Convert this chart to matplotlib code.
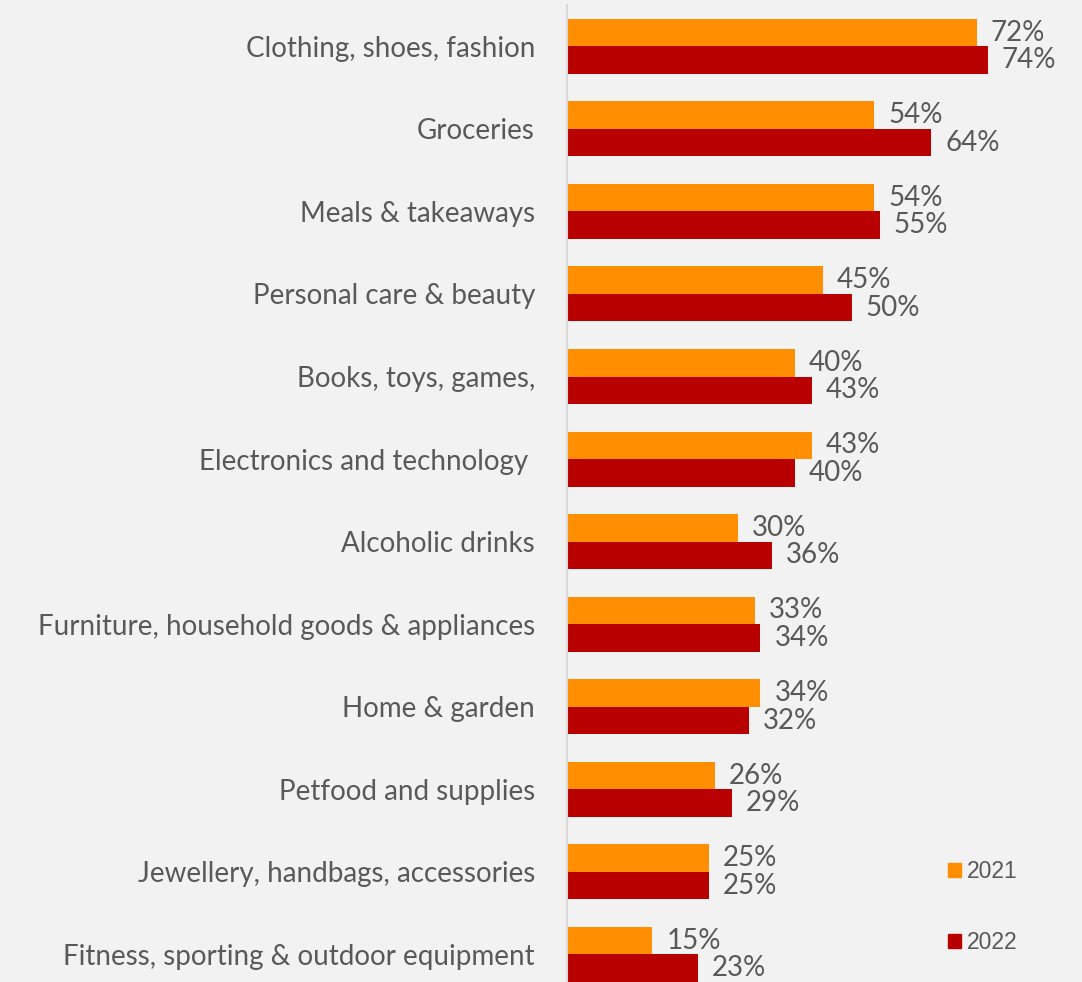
import matplotlib
matplotlib.use('Agg')
import matplotlib.pyplot as plt
from matplotlib.patches import Patch

categories = [
    'Clothing, shoes, fashion',
    'Groceries',
    'Meals & takeaways',
    'Personal care & beauty',
    'Books, toys, games,',
    'Electronics and technology ',
    'Alcoholic drinks',
    'Furniture, household goods & appliances',
    'Home & garden',
    'Petfood and supplies',
    'Jewellery, handbags, accessories',
    'Fitness, sporting & outdoor equipment',
]
share_2021 = [72, 54, 54, 45, 40, 43, 30, 33, 34, 26, 25, 15]
share_2022 = [74, 64, 55, 50, 43, 40, 36, 34, 32, 29, 25, 23]

BG = '#f2f2f2'
ORANGE = '#ff8f00'
RED = '#b80000'
TEXT = '#595959'
FONT = 'Lato'

W, H = 1082, 982
fig = plt.figure(figsize=(W / 100, H / 100), dpi=100, facecolor=BG)
ax = fig.add_axes([567 / W, 0, 1 - 567 / W, 1 - 5 / H], facecolor=BG)

bar_h = 1 / 3
ys = list(range(len(categories)))
y_2021 = [y - bar_h / 2 for y in ys]
y_2022 = [y + bar_h / 2 for y in ys]

bars_a = ax.barh(y_2021, share_2021, height=bar_h, color=ORANGE, label='2021')
bars_b = ax.barh(y_2022, share_2022, height=bar_h, color=RED, label='2022')

for bars, vals in ((bars_a, share_2021), (bars_b, share_2022)):
    for bar, v in zip(bars, vals):
        ax.annotate(f'{v}%', (bar.get_width(), bar.get_y() + bar.get_height() / 2),
                    xytext=(10, 0), textcoords='offset points',
                    ha='left', va='center', fontsize=20, color=TEXT,
                    family=FONT)

ax.set_xlim(0, (W - 567) / 5.69)
ax.set_ylim(len(categories) - 1 + bar_h, -0.5)

ax.set_yticks(ys)
ax.set_yticklabels(categories, fontsize=20, color=TEXT, family=FONT)
ax.tick_params(axis='y', length=0, pad=23)
ax.set_xticks([])

for side in ('top', 'right', 'bottom'):
    ax.spines[side].set_visible(False)
ax.spines['left'].set_color('#d9d9d9')
ax.spines['left'].set_linewidth(1.5)

handles = [Patch(color=ORANGE), Patch(color=RED)]
fig.legend(handles, ['2021', '2022'], loc='upper left',
           bbox_to_anchor=(948 / W, 1 - 860 / H), frameon=False,
           borderpad=0, borderaxespad=0, handlelength=0.57, handleheight=0.57,
           handletextpad=0.25, labelspacing=2.1,
           prop={'family': 'Liberation Sans', 'size': 16.5}, labelcolor=TEXT)

fig.savefig('out.png', dpi=100, facecolor=BG)
